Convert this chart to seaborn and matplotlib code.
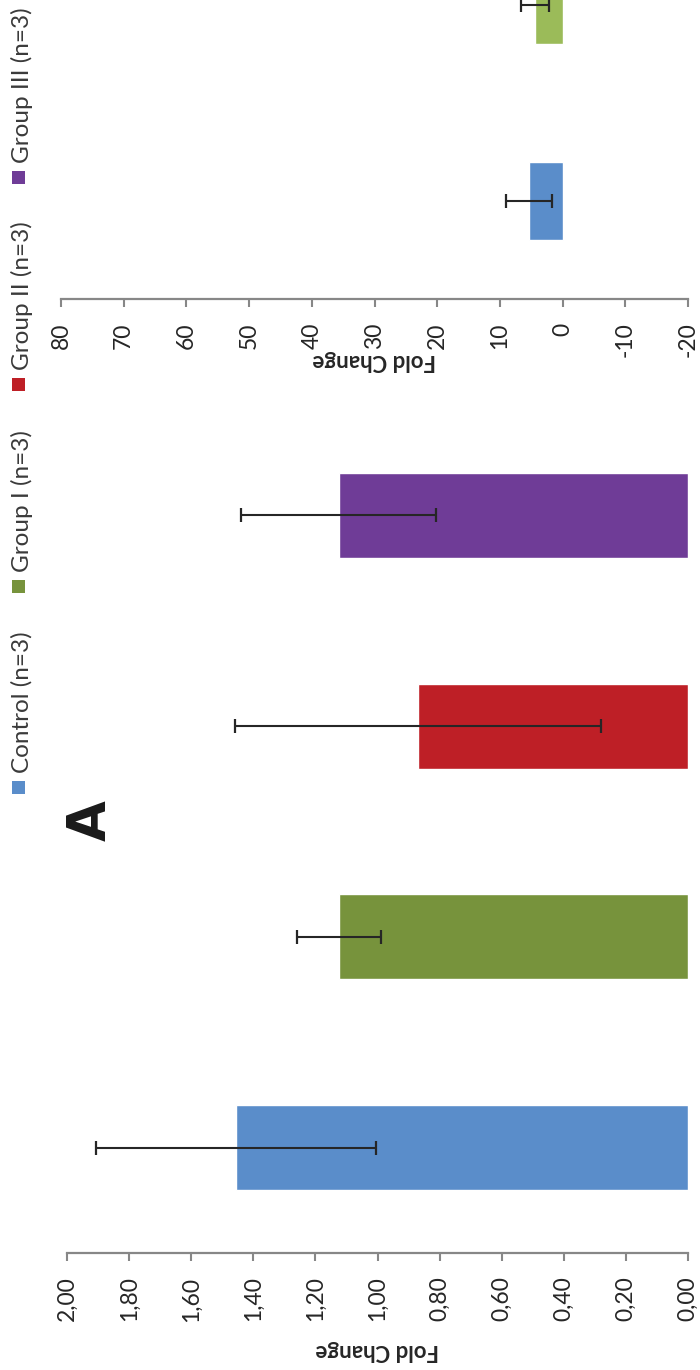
import numpy as np
import pandas as pd
import seaborn as sns
import matplotlib.pyplot as plt
from matplotlib.patches import Rectangle

# ---------------- data ----------------
categories = ["Control", "Group I", "Group II", "Group III"]
legend_labels = ["Control (n=3)", "Group I (n=3)", "Group II (n=3)", "Group III (n=3)"]
colors_a = ["#5A8DCA", "#77933C", "#BE1F26", "#6F3C97"]
colors_b = ["#5A8DCA", "#9BBB59", "#BE1F26", "#6F3C97"]

# panel A (lower, fold change 0-2)
a_values = [1.455, 1.125, 0.870, 1.125]
a_errors = [0.450, 0.135, 0.590, 0.315]
a_ticks = [2.0, 1.8, 1.6, 1.4, 1.2, 1.0, 0.8, 0.6, 0.4, 0.2, 0.0]
a_ticklabels = ["2,00", "1,80", "1,60", "1,40", "1,20", "1,00",
                "0,80", "0,60", "0,40", "0,20", "0,00"]

# upper panel (fold change -20..80); Group II/III are cut off in the reference
b_values = [5.4, 4.4, np.nan, np.nan]
b_errors = [3.7, 2.3, np.nan, np.nan]
b_ticks = [80, 70, 60, 50, 40, 30, 20, 10, 0, -10, -20]
b_ticklabels = ["80", "70", "60", "50", "40", "30", "20", "10", "0", "-10", "-20"]

axis_label = "Fold Change"
panel_label = "A"

# ---------------- style ----------------
sns.set_theme(style="white")
plt.rcParams["font.family"] = ["Lato", "DejaVu Sans"]

W, H = 700, 1370
fig = plt.figure(figsize=(W / 100, H / 100), dpi=100)
fig.patch.set_facecolor("white")

def px_axes(left, right, top, bottom):
    return fig.add_axes([left / W, 1 - bottom / H, (right - left) / W, (bottom - top) / H])

GRAY = "#878787"
TXT = "#262626"

def draw_panel(ax, values, errors, colors, ticks, ticklabels, xlim, label_y):
    df = pd.DataFrame({"cat": categories, "val": values})
    sns.barplot(data=df, x="val", y="cat", hue="cat", order=categories,
                hue_order=categories, palette=dict(zip(categories, colors)),
                orient="h", dodge=False, width=0.403, errorbar=None,
                legend=False, saturation=1, ax=ax)
    pos = np.arange(len(categories))
    ax.errorbar(values, pos, xerr=errors, fmt="none", ecolor="#262626",
                elinewidth=1.5, capsize=4.8, capthick=1.6, zorder=5)
    ax.set_xlim(*xlim)
    ax.set_ylim(-0.5, len(categories) - 0.5)
    ax.set_yticks([])
    ax.set_ylabel("")
    ax.set_xticks(ticks)
    ax.set_xticklabels(ticklabels)
    ax.tick_params(axis="x", direction="out", length=6, width=1.5, color=GRAY,
                   labelrotation=90, pad=11, labelsize=16.5, labelcolor=TXT,
                   bottom=True)
    for s in ["top", "left", "right"]:
        ax.spines[s].set_visible(False)
    ax.spines["bottom"].set_color(GRAY)
    ax.spines["bottom"].set_linewidth(1.6)
    ax.set_xlabel(axis_label, rotation=180, fontsize=16, fontweight="bold",
                  color=TXT, va="center", ha="center")
    ax.xaxis.set_label_coords(0.5, label_y)
    ax.set_facecolor("none")

# panel A: axis line at y=1253 px, plot spans up to y=410 px
axA = px_axes(67, 688, 410, 1253)
draw_panel(axA, a_values, a_errors, colors_a, a_ticks, a_ticklabels, (2.0, 0.0),
           (1253 - 1350) / (1253 - 410))

# upper panel: axis line at y=299 px, plot extends above the image
axB = px_axes(61, 688, -485, 299)
draw_panel(axB, b_values, b_errors, colors_b, b_ticks, b_ticklabels, (80, -20),
           (299 - 361) / (299 + 485))

# panel label
fig.text(91 / W, 1 - 821 / H, panel_label, rotation=90, fontsize=38,
         fontweight="heavy", ha="center", va="center", color="#1a1a1a",
         family=["DejaVu Sans"])

# legend (rotated, in the left margin)
legend_text_start = [773, 572, 370, 163]
for lab, col, ys in zip(legend_labels, colors_a, legend_text_start):
    fig.text(22 / W, 1 - ys / H, lab, rotation=90, fontsize=17.5,
             ha="center", va="bottom", color="#3a3a3a")
    fig.add_artist(Rectangle((12 / W, 1 - (ys + 21) / H), 13 / W, 13 / H,
                             transform=fig.transFigure, facecolor=col,
                             edgecolor="none"))

fig.savefig("out.png", dpi=100)
